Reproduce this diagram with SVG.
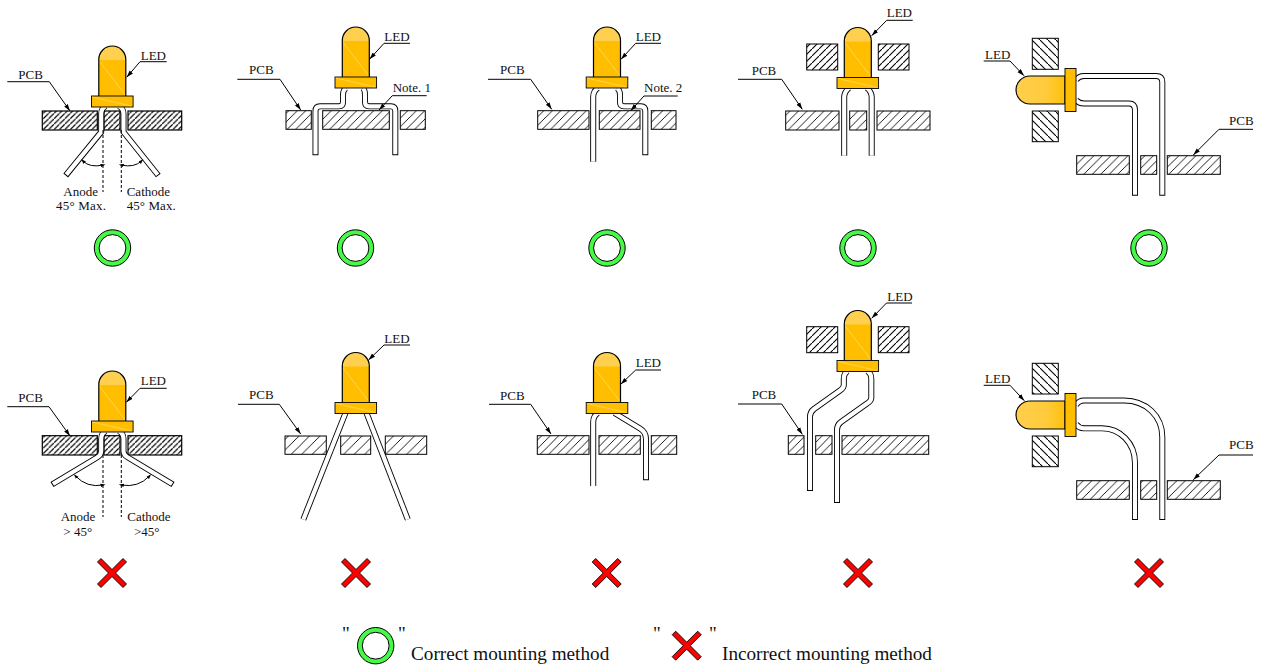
<svg xmlns="http://www.w3.org/2000/svg" width="1263" height="668" viewBox="0 0 1263 668">
<style>
text{font-family:"Liberation Serif","Times New Roman",serif;font-size:13px;fill:#111}
.lg{font-size:19.2px}
.q{font-size:19px}
.pd,.pm,.ps,.pb,.pv{stroke:#000;stroke-width:1}
.pd{fill:url(#hd);stroke-width:1.2}
.pm{fill:url(#hm)}
.ps{fill:url(#hs)}
.pb{fill:url(#hb)}
.pv{fill:url(#hv)}
.lo,.li{fill:none;stroke-linejoin:round}
.lo{stroke:#000;stroke-width:6}
.li{stroke:#fff;stroke-width:4.2}
.dash{fill:none;stroke:#000;stroke-width:1;stroke-dasharray:3 2}
.arc{fill:none;stroke:#000;stroke-width:1;marker-start:url(#ah2);marker-end:url(#ah2)}
.ldr{fill:none;stroke:#000;stroke-width:1;marker-end:url(#ah)}
</style>
<defs>
<pattern id="hd" width="5.4" height="5.4" patternUnits="userSpaceOnUse"><path d="M-1,6.4L6.4,-1" stroke="#000" stroke-width="1.15" fill="none"/></pattern>
<pattern id="hm" width="8.5" height="8.5" patternUnits="userSpaceOnUse"><path d="M-1,9.5L9.5,-1" stroke="#000" stroke-width=".9" fill="none"/></pattern>
<pattern id="hs" width="10.5" height="10.5" patternUnits="userSpaceOnUse"><path d="M-1,11.5L11.5,-1" stroke="#000" stroke-width=".9" fill="none"/></pattern>
<pattern id="hv" width="7" height="7" patternUnits="userSpaceOnUse"><path d="M-1,8L8,-1" stroke="#000" stroke-width="1.1" fill="none"/></pattern>
<pattern id="hb" width="8" height="8" patternUnits="userSpaceOnUse"><path d="M-1,-1L9,9" stroke="#000" stroke-width="1.1" fill="none"/></pattern>
<marker id="ah" markerUnits="userSpaceOnUse" markerWidth="8" markerHeight="6" refX="7" refY="3" orient="auto"><path d="M0,.8L7,3L0,5.2Z" fill="#000"/></marker>
<marker id="ah2" markerUnits="userSpaceOnUse" markerWidth="6" markerHeight="5" refX="2.5" refY="2.5" orient="auto-start-reverse"><path d="M0,.8L5,2.5L0,4.2Z" fill="#000"/></marker>
<linearGradient id="gh" x1="0" x2="1" y1="0" y2="0"><stop offset="0" stop-color="#ffcf4d"/><stop offset=".6" stop-color="#ffcb3d"/><stop offset="1" stop-color="#ffc10a"/></linearGradient>
<g id="led-v">
<path d="M-13.5,50V13.5A13.5,13.5 0 0 1 13.5,13.5V50Z" fill="#ffbf00"/>
<path d="M-13.5,14V13.5A13.5,13.5 0 0 1 13.5,13.5V14Z" fill="#ffd04f"/>
<path d="M-13,15L13,49" stroke="#ffe08a" stroke-width=".6" fill="none"/>
<path d="M-13.5,50V13.5A13.5,13.5 0 0 1 13.5,13.5V50" fill="none" stroke="#000" stroke-width="1.2"/>
<rect x="-20.8" y="50" width="41.6" height="11" fill="#ffbf00" stroke="#000" stroke-width=".9"/>
<path d="M-20,51L19,60" stroke="#ffe08a" stroke-width=".6" fill="none"/>
</g>
<g id="led-h">
<path d="M49,-14H14A14,14 0 0 0 14,14H49Z" fill="url(#gh)" stroke="#000" stroke-width="1.2"/>
<rect x="49" y="-21.5" width="11" height="43" fill="#ffbf00" stroke="#000" stroke-width=".9"/>
</g>
<g id="ok"><circle r="18.2" fill="#47f947" stroke="#000" stroke-width="1"/><circle r="13.4" fill="#fff" stroke="#000" stroke-width="1"/></g>
<path id="ng" d="M0,-3.5L11,-14.5L14.5,-11L3.5,0L14.5,11L11,14.5L0,3.5L-11,14.5L-14.5,11L-3.5,0L-14.5,-11L-11,-14.5Z" fill="#f00" stroke="#000" stroke-width=".9"/>
</defs>
<rect width="1263" height="668" fill="#fff"/>

<g id="fig1">
<rect class="pd" x="42.3" y="111" width="55" height="19"/><rect class="pd" x="104" y="111" width="16" height="19"/><rect class="pd" x="128" y="111" width="53.7" height="19"/>
<path class="lo" d="M106,106Q101.2,108 101.2,114V132L65.7,175.5"/><path class="li" d="M106,106Q101.2,108 101.2,114V132L66.3,174.7"/>
<path class="lo" d="M118.5,106Q123.5,108 123.5,114V132L158.3,175.5"/><path class="li" d="M118.5,106Q123.5,108 123.5,114V132L157.7,174.7"/>
<use href="#led-v" x="112.3" y="46"/>
<path class="dash" d="M103,130V192M121.3,130V192"/>
<path class="arc" d="M83,161Q90,168 103,165"/><path class="arc" d="M121.3,165Q134,168 141.5,161"/>
<text x="63.3" y="196">Anode</text><text x="56" y="210" textLength="50">45° Max.</text>
<text x="126.7" y="196">Cathode</text><text x="126.7" y="210" textLength="49">45° Max.</text>
<text x="140.7" y="59.5">LED</text><text x="18.3" y="78.5">PCB</text>
<use href="#ok" x="112.5" y="248"/>
</g>

<g id="fig2">
<rect class="pm" x="286" y="110.7" width="25.3" height="18.6"/><rect class="pm" x="322.7" y="110.7" width="66.6" height="18.6"/><rect class="pm" x="400.3" y="110.7" width="25" height="18.6"/>
<path class="lo" d="M346,88Q343,90 343,95V102Q343,106.3 339,106.3H320Q315.5,106.3 315.5,111V155.3"/><path class="li" d="M346,88Q343,90 343,95V102Q343,106.3 339,106.3H320Q315.5,106.3 315.5,111V154.3"/>
<path class="lo" d="M363,88Q365,90 365,95V102Q365,106.3 369,106.3H391Q395.3,106.3 395.3,111V155.3"/><path class="li" d="M363,88Q365,90 365,95V102Q365,106.3 369,106.3H391Q395.3,106.3 395.3,111V154.3"/>
<use href="#led-v" x="355.8" y="27"/>
<text x="384.3" y="41.2">LED</text><text x="249" y="74">PCB</text><text x="392.7" y="91.5">Note. 1</text>
<use href="#ok" x="355.5" y="248"/>
</g>

<g id="fig3">
<rect class="pm" x="537.7" y="110.7" width="51.3" height="18.6"/><rect class="pm" x="599.3" y="110.7" width="40.7" height="18.6"/><rect class="pm" x="651.3" y="110.7" width="24.7" height="18.6"/>
<path class="lo" d="M598,88Q593.2,91 593.2,97V161.7"/><path class="li" d="M598,88Q593.2,91 593.2,97V161.7"/>
<path class="lo" d="M617,88Q620,90 620,95V102Q620,106.3 624,106.3H641Q645.3,106.3 645.3,111V155.3"/><path class="li" d="M617,88Q620,90 620,95V102Q620,106.3 624,106.3H641Q645.3,106.3 645.3,111V154.3"/>
<use href="#led-v" x="607" y="27"/>
<text x="635.7" y="41.2">LED</text><text x="500" y="74">PCB</text><text x="644" y="91.5">Note. 2</text>
<use href="#ok" x="607" y="248"/>
</g>

<g id="fig4">
<rect class="pv" x="806.7" y="44" width="31" height="26"/><rect class="pv" x="878.3" y="44" width="30.7" height="26"/>
<rect class="pm" x="785.7" y="111" width="53.3" height="19"/><rect class="pm" x="849.7" y="111" width="17" height="19"/><rect class="pm" x="877" y="111" width="53" height="19"/>
<path class="lo" d="M849,88Q844.2,92 844.2,97V155.7"/><path class="li" d="M849,88Q844.2,92 844.2,97V155.7"/>
<path class="lo" d="M867,88Q871.7,92 871.7,97V155.7"/><path class="li" d="M867,88Q871.7,92 871.7,97V155.7"/>
<use href="#led-v" x="857.8" y="27.5"/>
<text x="886.7" y="16.5">LED</text><text x="751.7" y="74.5">PCB</text>
<use href="#ok" x="858" y="248"/>
</g>

<g id="fig5">
<rect class="pb" x="1032.3" y="38.3" width="26" height="31"/><rect class="pb" x="1032.3" y="111" width="26" height="30.7"/>
<rect class="pm" x="1076.7" y="155.7" width="52.6" height="18.6"/><rect class="pm" x="1140.7" y="155.7" width="16" height="18.6"/><rect class="pm" x="1167.3" y="155.7" width="53" height="18.6"/>
<path class="lo" d="M1076,80Q1079,76 1084,76H1156Q1162.3,76 1162.3,82V195.7"/><path class="li" d="M1076,80Q1079,76 1084,76H1156Q1162.3,76 1162.3,82V194.7"/>
<path class="lo" d="M1076,100Q1079,103.5 1084,103.5H1129Q1135,103.5 1135,110V195.7"/><path class="li" d="M1076,100Q1079,103.5 1084,103.5H1129Q1135,103.5 1135,110V194.7"/>
<use href="#led-h" x="1016" y="90"/>
<text x="985" y="58.5">LED</text><text x="1229" y="124.5">PCB</text>
<use href="#ok" x="1149" y="248"/>
</g>

<g id="fig6">
<rect class="pd" x="42.3" y="435.7" width="55" height="19.3"/><rect class="pd" x="104" y="435.7" width="16" height="19.3"/><rect class="pd" x="128" y="435.7" width="53.7" height="19.3"/>
<path class="lo" d="M106,431Q101.2,433 101.2,439V451Q101.2,455 97,457.5L52,484.5"/><path class="li" d="M106,431Q101.2,433 101.2,439V451Q101.2,455 97,457.5L52.9,484"/>
<path class="lo" d="M118.5,431Q123.5,433 123.5,439V451Q123.5,455 128,457.5L173,484.5"/><path class="li" d="M118.5,431Q123.5,433 123.5,439V451Q123.5,455 128,457.5L172.1,484"/>
<use href="#led-v" x="112.3" y="371"/>
<path class="dash" d="M103,455V517M121.3,455V517"/>
<path class="arc" d="M75.5,476Q87,488 103,485"/><path class="arc" d="M121.3,485Q138,488 149.5,476"/>
<text x="60.7" y="520.5">Anode</text><text x="63.3" y="535.5">&gt; 45°</text>
<text x="127.3" y="520.5">Cathode</text><text x="134" y="535.5">&gt;45°</text>
<text x="140.7" y="384.5">LED</text><text x="18.3" y="401.5">PCB</text>
<use href="#ng" x="112" y="573"/>
</g>

<g id="fig7">
<rect class="ps" x="285" y="436" width="41.3" height="18.3"/><rect class="ps" x="340.7" y="436" width="30" height="18.3"/><rect class="ps" x="385.3" y="436" width="41.4" height="18.3"/>
<path class="lo" d="M345.5,413L303.3,519.5"/><path class="li" d="M345.5,413L303.3,519.5"/>
<path class="lo" d="M366.5,413L407.8,519.5"/><path class="li" d="M366.5,413L407.8,519.5"/>
<use href="#led-v" x="355.8" y="352.5"/>
<text x="384.3" y="343">LED</text><text x="249" y="399">PCB</text>
<use href="#ng" x="356" y="573"/>
</g>

<g id="fig8">
<rect class="pm" x="537.3" y="435.7" width="51.7" height="18.6"/><rect class="pm" x="599" y="435.7" width="41.3" height="18.6"/><rect class="pm" x="651.3" y="435.7" width="25.4" height="18.6"/>
<path class="lo" d="M598,413Q593.2,416 593.2,422V486"/><path class="li" d="M598,413Q593.2,416 593.2,422V486"/>
<path class="lo" d="M614.5,413L640,428.5Q646,432 646,439V480.3"/><path class="li" d="M614.5,413L640,428.5Q646,432 646,439V479.3"/>
<use href="#led-v" x="607" y="352.5"/>
<text x="635.7" y="366.7">LED</text><text x="500" y="399.7">PCB</text>
<use href="#ng" x="606.7" y="573"/>
</g>

<g id="fig9">
<rect class="pv" x="806.7" y="326.7" width="31" height="26"/><rect class="pv" x="878.3" y="326.7" width="30.7" height="26"/>
<rect class="pm" x="788.3" y="435.7" width="15.7" height="18.6"/><rect class="pm" x="815.7" y="435.7" width="16.3" height="18.6"/><rect class="pm" x="842" y="435.7" width="86.7" height="18.6"/>
<path class="lo" d="M848,371Q843.8,373 843.8,379V385Q843.8,388 840,390.5L814,409Q810,412 810,417V491"/><path class="li" d="M848,371Q843.8,373 843.8,379V385Q843.8,388 840,390.5L814,409Q810,412 810,417V490"/>
<path class="lo" d="M867,371Q871.3,373 871.3,379V398Q871.3,401 867,403.5L841,422Q837,425 837,430V503"/><path class="li" d="M867,371Q871.3,373 871.3,379V398Q871.3,401 867,403.5L841,422Q837,425 837,430V502"/>
<use href="#led-v" x="857.8" y="310.5"/>
<text x="887.3" y="300.5">LED</text><text x="751.7" y="398.7">PCB</text>
<use href="#ng" x="858" y="573"/>
</g>

<g id="fig10">
<rect class="pb" x="1032.3" y="363.3" width="26" height="30.7"/><rect class="pb" x="1032.3" y="436" width="26" height="30.7"/>
<rect class="pm" x="1076.7" y="480.7" width="52.6" height="18.6"/><rect class="pm" x="1140.7" y="480.7" width="16" height="18.6"/><rect class="pm" x="1167.3" y="480.7" width="53" height="18.6"/>
<path class="lo" d="M1076,405Q1079,400.5 1084,400.5H1124C1146,400.5 1162.3,416 1162.3,437V520"/><path class="li" d="M1076,405Q1079,400.5 1084,400.5H1124C1146,400.5 1162.3,416 1162.3,437V519"/>
<path class="lo" d="M1076,424Q1079,428.3 1084,428.3H1102C1120,428.3 1135,443 1135,463V520"/><path class="li" d="M1076,424Q1079,428.3 1084,428.3H1102C1120,428.3 1135,443 1135,463V519"/>
<use href="#led-h" x="1016" y="415"/>
<text x="985" y="382.7">LED</text><text x="1229" y="449">PCB</text>
<use href="#ng" x="1149" y="573"/>
</g>

<g id="legend">
<text class="q" x="342" y="640">"</text><use href="#ok" x="375.7" y="645.7"/><text class="q" x="398" y="640">"</text>
<text class="lg" x="411" y="660">Correct mounting method</text>
<text class="q" x="653" y="640">"</text><use href="#ng" x="686.7" y="645.7"/><text class="q" x="709" y="640">"</text>
<text class="lg" x="722" y="660">Incorrect mounting method</text>
</g>

<g id="connectors">
<path class="ldr" d="M166.7,61.7H140L126.7,77.3"/><path class="ldr" d="M7.3,81.7H49.3L70,111"/>
<path class="ldr" d="M410,43.3H384L369.5,59.3"/><path class="ldr" d="M237.3,79.3H280L300.7,110"/><path class="ldr" d="M426.7,95.7H392.3L379,110"/>
<path class="ldr" d="M661,43.3H635.7L621,59.3"/><path class="ldr" d="M488,79.3H530.7L551.7,109.3"/><path class="ldr" d="M677.7,96H644L630.7,110.7"/>
<path class="ldr" d="M912.7,20.3H886.7L871.7,35.7"/><path class="ldr" d="M738,79.3H781.7L802.3,109.3"/>
<path class="ldr" d="M983.7,61H1010L1024,75.7"/><path class="ldr" d="M1253,129.3H1219L1193.3,155"/>
<path class="ldr" d="M166.7,388.3H140L126.3,402.3"/><path class="ldr" d="M7.3,406.7H49L70,436"/>
<path class="ldr" d="M410,345H384L368.5,360"/><path class="ldr" d="M238,404.3H279.3L300.7,434"/>
<path class="ldr" d="M661,370H635.7L620.7,384.3"/><path class="ldr" d="M489,404.3H530.7L551,434"/>
<path class="ldr" d="M912,303H886.5L871.7,318.3"/><path class="ldr" d="M738,404H781.7L802.3,434.3"/>
<path class="ldr" d="M983.7,385.3H1010L1024.3,400.7"/><path class="ldr" d="M1253,455H1219L1193.3,479.7"/>
</g>
</svg>
